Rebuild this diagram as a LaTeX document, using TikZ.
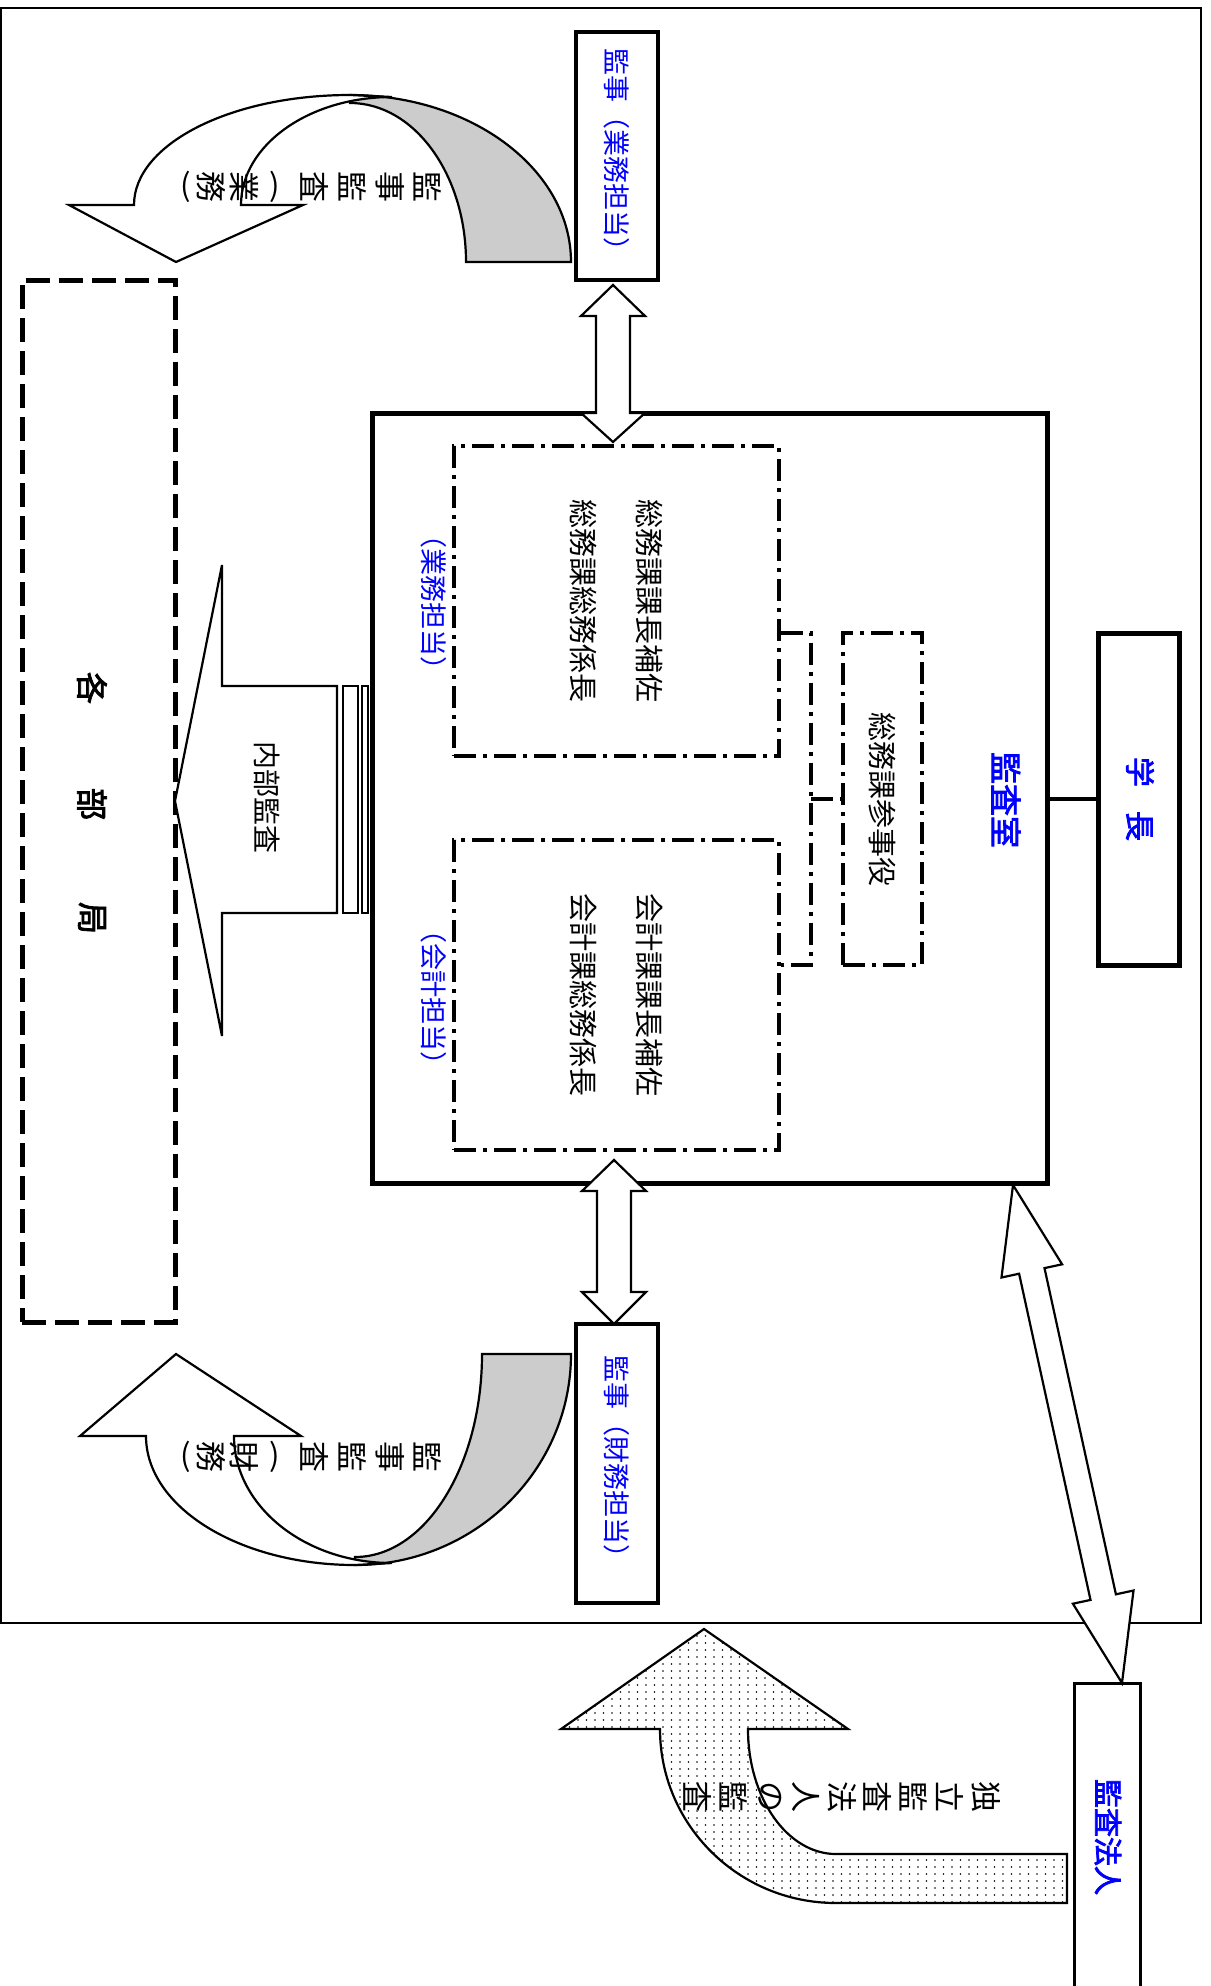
\documentclass[tikz,border=0pt]{standalone}
\usepackage{fontspec}
\setmainfont{Noto Sans CJK JP}[AutoFakeBold=2.5]
\usetikzlibrary{patterns}
\newcommand\jfs[1]{\fontsize{#1pt}{#1pt}\selectfont}
\pgfdeclarepatternformonly{sparsedots}{\pgfqpoint{-1.5pt}{-1.5pt}}{\pgfqpoint{1.5pt}{1.5pt}}{\pgfqpoint{8.5pt}{7pt}}{%
  \pgfpathcircle{\pgfqpoint{0pt}{0pt}}{0.8pt}\pgfusepath{fill}}
\definecolor{kblue}{RGB}{0,0,255}
\definecolor{kgray}{RGB}{204,204,204}
\begin{document}
\begin{tikzpicture}[x=1pt,y=-1pt,
  box/.style={draw, line width=3.5pt, fill=white, inner sep=0pt},
  thickbox/.style={draw, line width=5pt, inner sep=0pt},
  ddbox/.style={draw, line width=3.2pt, dash pattern=on 22pt off 7pt on 4pt off 7pt, inner sep=0pt},
  ddline/.style={line width=3.2pt, dash pattern=on 22pt off 7pt on 4pt off 7pt},
  vtxt/.style={rotate=-90, inner sep=0pt},
  ptxt/.style={inner sep=0pt},
  blk/.style={draw, line width=2.2pt, fill=white, line join=miter},
  ]
\useasboundingbox (0,0) rectangle (1210,1986);
\fill[white] (0,0) rectangle (1210,1986);
\clip (0,0) rectangle (1210,1986);
% outer frame
\draw[line width=2.7pt] (1,8) rectangle (1201,1623);
% boxes
\node[thickbox, minimum width=675pt, minimum height=770pt] (kansa) at (709.5,798) {};
\node[thickbox, minimum width=81pt, minimum height=332pt] (gaku) at (1138.5,799) {};
\draw[line width=4.5pt] (gaku.west) -- (gaku.west -| kansa.east);
\node[ddbox, minimum width=79pt, minimum height=332pt] (sanji) at (882.5,799) {};
\node[ddbox, minimum width=325pt, minimum height=310pt] (gyo) at (616.5,601) {};
\node[ddbox, minimum width=325pt, minimum height=310pt] (kai) at (616.5,995) {};
\coordinate (brt) at (811,633);
\coordinate (brb) at (811,965);
\draw[ddline] (gyo.east |- brt) -- (brt) -- (brb) -- (kai.east |- brb);
\draw[ddline] (811,799) -- (sanji.west);
\node[box, minimum width=82pt, minimum height=248pt] (kj1) at (617,156) {};
\node[box, minimum width=82pt, minimum height=279pt] (kj2) at (617,1463.5) {};
\node[draw, line width=5pt, dash pattern=on 24pt off 9pt, inner sep=0pt, minimum width=153pt, minimum height=1042pt] (kakubu) at (98.5,801) {};
\node[box, line width=3pt, minimum width=66pt, minimum height=400pt] (hojin) at (1107,1883) {};

% texts in boxes
\node[vtxt, text=kblue, font=\jfs{27}] (t1) at (kj1) {監事（業務担当）};
\node[vtxt, text=kblue, font=\jfs{27}] (t2) at (kj2) {監事（財務担当）};
\node[vtxt, text=kblue, font=\jfs{32}\bfseries] (t3) at (1006,800) {監査室};
\node[vtxt, text=kblue, font=\jfs{30}\bfseries] (t4) at (1140,799) {学\hspace{24pt}長};
\node[vtxt, font=\jfs{29}] (t5) at (sanji) {総務課参事役};
\node[vtxt, font=\jfs{29}] (t6) at (649,601) {総務課課長補佐};
\node[vtxt, font=\jfs{29}] (t7) at (583,601) {総務課総務係長};
\node[vtxt, font=\jfs{29}] (t8) at (649,995) {会計課課長補佐};
\node[vtxt, font=\jfs{29}] (t9) at (583,995) {会計課総務係長};
\node[vtxt, text=kblue, font=\jfs{27}] (t10) at (434,602) {（業務担当）};
\node[vtxt, text=kblue, font=\jfs{27}] (t11) at (434,997) {（会計担当）};
\node[vtxt, text=kblue, font=\jfs{29}\bfseries] (t12) at (1108,1837) {監査法人};
\node[vtxt, font=\jfs{32}\bfseries] (k1) at (92,688) {各};
\node[vtxt, font=\jfs{32}\bfseries] (k2) at (92,804) {部};
\node[vtxt, font=\jfs{32}\bfseries] (k3) at (92,918) {局};

% top curved arrow
\path[fill=kgray, draw, line width=2.2pt] (466,262) -- (571,262) .. controls (571,169.8) and (472.1,95) .. (350,95) -- (350,103) .. controls (414.1,103) and (466,174.2) .. (466,262) -- cycle;
\path[blk] (134,205) .. controls (134,144.2) and (230.7,95) .. (350,95) -- (392,97) .. controls (308.6,97) and (241,145.4) .. (241,205) -- (303,205) -- (176,262) -- (69,205) -- cycle;
% bottom curved arrow
\path[fill=kgray, draw, line width=2.2pt] (482,1354) -- (571,1354) .. controls (571,1470.5) and (474.3,1565) .. (355,1565) -- (355,1557) .. controls (425.1,1557) and (482,1466.1) .. (482,1354) -- cycle;
\path[blk] (146,1436) .. controls (146,1507.2) and (239.6,1565) .. (355,1565) -- (392,1563) .. controls (304.7,1563) and (234,1506.1) .. (234,1436) -- (301,1436) -- (176,1354) -- (80,1436) -- cycle;

% vertical double arrows
\path[blk] (613,285) -- (645,316) -- (630,316) -- (630,413) -- (645,413) -- (613,442) -- (581,413) -- (596,413) -- (596,316) -- (581,316) -- cycle;
\path[blk] (614,1160) -- (646,1191) -- (631,1191) -- (631,1292) -- (646,1292) -- (614,1324) -- (582,1292) -- (597,1292) -- (597,1191) -- (582,1191) -- cycle;

% internal audit arrow
\path[blk] (175,801) -- (222,565) -- (222,686) -- (337,686) -- (337,913) -- (222,913) -- (222,1036) -- cycle;
\draw[line width=2pt, fill=white] (343,686) rectangle (358,913);
\draw[line width=2pt, fill=white] (362,686) rectangle (368,913);
\node[vtxt, font=\jfs{28}] (t13) at (267,797) {内部監査};

% diagonal double arrow
\path[blk] (1013,1185) -- (1062.1,1264.3) -- (1044.5,1268.1) -- (1115.9,1594.3) -- (1133.5,1590.5) -- (1122,1683) -- (1072.9,1603.7) -- (1090.5,1599.9) -- (1019.1,1273.7) -- (1001.5,1277.5) -- cycle;

% dotted curved arrow
\path[pattern=sparsedots, draw, line width=2.2pt, line join=miter] (704,1629) -- (848,1729) -- (748,1729) .. controls (748,1798) and (787.4,1854) .. (836,1854) -- (1067,1854) -- (1067,1903) -- (836,1903) .. controls (738.8,1903) and (660,1825.1) .. (660,1729) -- (561,1729) -- cycle;

% arrow labels (vertical writing, rotated)
\foreach \ch/\x [count=\i] in {監/428,事/390,監/353,査/315,業/244,務/211}
  \node[vtxt, font=\jfs{31}] (ua\i) at (\x,187) {\ch};
\node[ptxt, font=\jfs{31}] (uap1) at (275,187) {)};
\node[ptxt, font=\jfs{31}] (uap2) at (186,187) {(};
\foreach \ch/\x [count=\i] in {監/428,事/390,監/353,査/315,財/244,務/211}
  \node[vtxt, font=\jfs{31}] (ub\i) at (\x,1457) {\ch};
\node[ptxt, font=\jfs{31}] (ubp1) at (275,1457) {)};
\node[ptxt, font=\jfs{31}] (ubp2) at (186,1457) {(};
\foreach \ch/\x [count=\i] in {独/986,立/950,監/914,査/878,法/842,人/806,の/770,監/734,査/698}
  \node[vtxt, font=\jfs{31}] (uc\i) at (\x,1797) {\ch};
\end{tikzpicture}
\end{document}
